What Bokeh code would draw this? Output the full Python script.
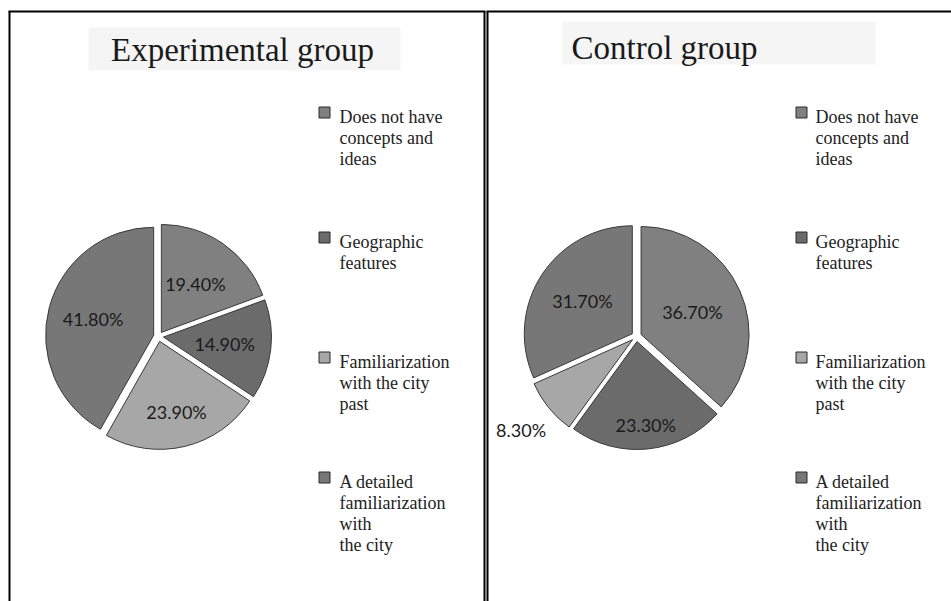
import numpy as np
from bokeh.plotting import figure
from bokeh.models import Range1d
from bokeh.core.properties import value
from bokeh.embed import file_html
from bokeh.resources import INLINE

W, H = 951, 601

# ---- data -------------------------------------------------------------
categories = [
    "Does not have concepts and ideas",
    "Geographic features",
    "Familiarization with the city past",
    "A detailed familiarization with the city",
]
experimental = [19.4, 14.9, 23.9, 41.8]
control = [36.7, 23.3, 8.3, 31.7]
group_titles = ["Experimental group", "Control group"]
legend_lines = [
    ["Does not have", "concepts and", "ideas"],
    ["Geographic", "features"],
    ["Familiarization", "with the city", "past"],
    ["A detailed", "familiarization", "with", "the city"],
]

# ---- style ------------------------------------------------------------
slice_colors = ["#808080", "#6b6b6b", "#a7a7a7", "#777777"]
outline = "#3a3a3a"


def sy(py):
    """screen-style y (top = 0) -> plot y"""
    return H - py


p = figure(width=W, height=H, output_backend="svg", toolbar_location=None,
           x_range=Range1d(0, W), y_range=Range1d(0, H), min_border=0)
p.axis.visible = False
p.grid.visible = False
p.outline_line_color = None
p.background_fill_color = "white"
p.border_fill_color = "white"

# ---- panel frames -----------------------------------------------------
frame = dict(line_color="black", line_width=2)
p.segment(x0=[8, 9, 484], y0=[sy(11), sy(11), sy(11)],
          x1=[485, 9, 484], y1=[sy(11), sy(H + 2), sy(H + 2)], **frame)
p.segment(x0=[486, 487], y0=[sy(11), sy(11)],
          x1=[W, 487], y1=[sy(11), sy(H + 2)], **frame)

# ---- title boxes and titles ---------------------------------------------
p.quad(left=[88, 562], right=[400, 875], top=[sy(27), sy(21)],
       bottom=[sy(70), sy(64)], fill_color="#f5f5f5", line_color=None)
p.text(x=[242, 664], y=[sy(49), sy(47)], text=group_titles,
       text_font=value("Liberation Serif"), text_font_size="33px",
       text_color="#1a1a1a", text_align="center", text_baseline="middle")


def draw_pie(vals, cx, cy, r, explode, label_r):
    vals = np.asarray(vals, dtype=float)
    frac = vals / vals.sum()
    cum = np.concatenate([[0.0], np.cumsum(frac)]) * 2 * np.pi
    start = np.pi / 2 - cum[:-1]
    end = np.pi / 2 - cum[1:]
    mid = (start + end) / 2
    xs = cx + explode * np.cos(mid)
    ys = sy(cy) + explode * np.sin(mid)
    p.wedge(x=xs, y=ys, radius=r, start_angle=start, end_angle=end,
            direction="clock", fill_color=slice_colors,
            line_color=outline, line_width=1)
    lx = xs + np.asarray(label_r) * r * np.cos(mid)
    ly = ys + np.asarray(label_r) * r * np.sin(mid)
    p.text(x=lx, y=ly, text=[f"{v:.2f}%" for v in vals],
           text_font=value("Lato"), text_font_size="18px",
           text_color="#1a1a1a", text_align="center", text_baseline="middle")


draw_pie(experimental, 158, 336, 108, 5, [0.55, 0.57, 0.67, 0.58])
draw_pie(control, 636, 336, 108, 5, [0.52, 0.78, 1.33, 0.55])

# ---- legends -----------------------------------------------------------
item_y = [112, 237, 357, 477]
for sq_x, tx in [(324, 339), (801, 815)]:
    p.rect(x=[sq_x] * 4, y=[sy(v) for v in item_y], width=11, height=11,
           fill_color=slice_colors, line_color="#2a2a2a", line_width=1)
    for yv, lines in zip(item_y, legend_lines):
        p.text(x=[tx] * len(lines),
               y=[sy(yv + 4 + 21 * i) for i in range(len(lines))],
               text=lines, text_font=value("Liberation Serif"),
               text_font_size="18px", text_color="#222222",
               text_align="left", text_baseline="middle")

open("out.html", "w").write(file_html(p, INLINE))
